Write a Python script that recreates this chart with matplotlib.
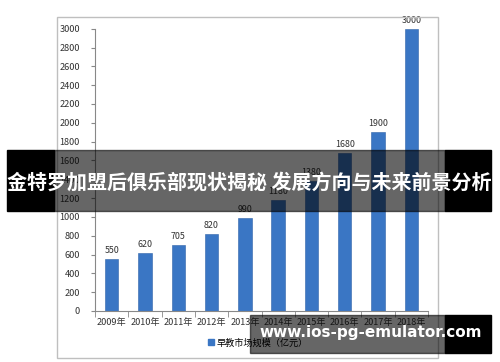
import matplotlib

matplotlib.use("Agg")
import matplotlib.pyplot as plt
from matplotlib.patches import Rectangle, Patch

plt.rcParams["font.family"] = ["Noto Sans CJK SC", "DejaVu Sans"]

years = ["2009年", "2010年", "2011年", "2012年", "2013年",
         "2014年", "2015年", "2016年", "2017年", "2018年"]
market_size = [550, 620, 705, 820, 990, 1180, 1380, 1680, 1900, 3000]
legend_label = "早教市场规模（亿元）"
banner_text = "金特罗加盟后俱乐部现状揭秘 发展方向与未来前景分析"
watermark_text = "www.ios-pg-emulator.com"

W, H = 500, 362
fig = plt.figure(figsize=(W / 100, H / 100), dpi=100)


def fx(px):
    return px / W


def fy(py):
    return 1 - py / H


# marco exterior del gráfico
fig.patches.append(Rectangle((fx(57), fy(358)), fx(438) - fx(57), fy(17) - fy(358),
                             transform=fig.transFigure, fill=False,
                             edgecolor="#bfbfbf", linewidth=1.0))

ax = fig.add_axes([fx(95), fy(311), fx(428) - fx(95), fy(28.7) - fy(311)])
x = list(range(len(years)))
ax.bar(x, market_size, width=0.4, color="#3a76c4", edgecolor="#2f63a8", linewidth=0.4)
for xi, v in zip(x, market_size):
    ax.text(xi, v + 40, str(v), ha="center", va="bottom", fontsize=6.4, color="#333333")

ax.set_xlim(-0.5, len(years) - 0.5)
ax.set_ylim(0, 3000)
ax.set_yticks(range(0, 3001, 200))
ax.set_xticks(x)
ax.set_xticklabels(years)
ax.set_xticks([i - 0.5 for i in range(len(years) + 1)], minor=True)
ax.tick_params(axis="x", which="major", length=0, labelsize=6.6, pad=5, colors="#333333")
ax.tick_params(axis="x", which="minor", length=4, color="#888888")
ax.tick_params(axis="y", length=3, labelsize=6.6, pad=8, color="#888888", labelcolor="#333333")
for side in ("top", "right"):
    ax.spines[side].set_visible(False)
for side in ("left", "bottom"):
    ax.spines[side].set_color("#888888")
    ax.spines[side].set_linewidth(0.8)

fig.legend(handles=[Patch(color="#3a76c4", label=legend_label)],
           loc="center left", bbox_to_anchor=(fx(200), fy(343)), frameon=False,
           fontsize=6.6, handlelength=0.6, handleheight=0.6, handletextpad=0.3)

# banda del título superpuesta
band_top, band_bot = 150, 211
fig.patches.append(Rectangle((fx(7), fy(band_bot)), fx(54) - fx(7), fy(band_top) - fy(band_bot),
                             transform=fig.transFigure, color="black", zorder=10))
fig.patches.append(Rectangle((fx(54), fy(band_bot)), fx(445) - fx(54), fy(band_top) - fy(band_bot),
                             transform=fig.transFigure, color="black", alpha=0.6, zorder=10))
fig.patches.append(Rectangle((fx(445), fy(band_bot)), fx(491) - fx(445), fy(band_top) - fy(band_bot),
                             transform=fig.transFigure, color="black", zorder=10))
fig.text(fx(249), fy(182), banner_text, ha="center", va="center", color="white",
         fontsize=14.4, fontweight="bold", zorder=11)

# marca de agua inferior
wm_top, wm_bot = 315, 353
fig.patches.append(Rectangle((fx(250), fy(wm_bot)), fx(445) - fx(250), fy(wm_top) - fy(wm_bot),
                             transform=fig.transFigure, color="black", alpha=0.6, zorder=10))
fig.patches.append(Rectangle((fx(445), fy(wm_bot)), fx(491) - fx(445), fy(wm_top) - fy(wm_bot),
                             transform=fig.transFigure, color="black", zorder=10))
fig.text(fx(371), fy(333), watermark_text, ha="center", va="center", color="white",
         fontsize=11.0, fontweight="bold", family="DejaVu Sans", zorder=11)

fig.savefig("out.png", dpi=100)
